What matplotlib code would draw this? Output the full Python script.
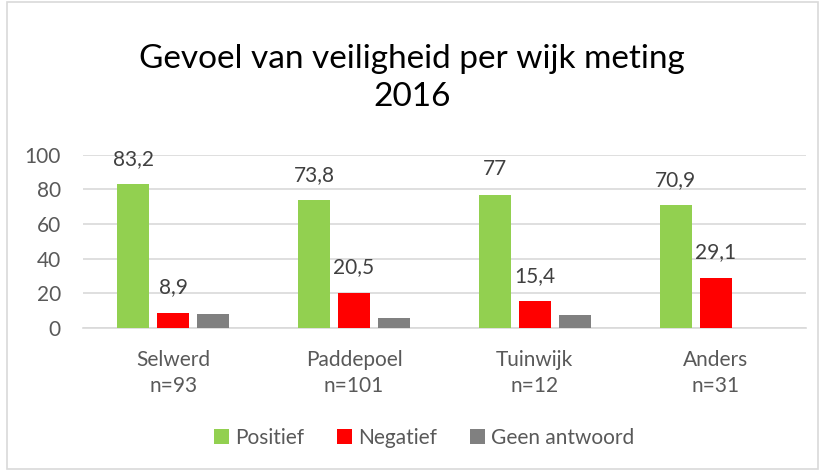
import matplotlib
matplotlib.use("Agg")
import matplotlib.pyplot as plt
import numpy as np
from matplotlib.patches import Rectangle

categories = ["Selwerd\nn=93", "Paddepoel\nn=101", "Tuinwijk\nn=12", "Anders\nn=31"]
positief = [83.2, 73.8, 77, 70.9]
negatief = [8.9, 20.5, 15.4, 29.1]
geen = [7.9, 5.7, 7.6, 0]
series_names = ["Positief", "Negatief", "Geen antwoord"]
colors = ["#92D050", "#FF0000", "#808080"]

plt.rcParams['font.family'] = ['Lato', 'DejaVu Sans']
txt = "#595959"

fig = plt.figure(figsize=(8.24, 4.72), dpi=100)
ax = fig.add_axes([0.1007, 0.305, 0.8773, 0.367])

x = np.arange(len(categories))
w = 0.177
step = 0.221
data = [positief, negatief, geen]
for i, (vals, c, name) in enumerate(zip(data, colors, series_names)):
    bars = ax.bar(x + (i - 1) * step, vals, width=w, color=c, label=name, zorder=3)
    if i < 2:
        for b, v in zip(bars, vals):
            lab = ("%g" % v).replace(".", ",")
            ax.annotate(lab, (b.get_x() + b.get_width() / 2, v), xytext=(0, 11),
                        textcoords="offset points", ha="center", va="bottom",
                        fontsize=15, color="#404040")

ax.set_xlim(-0.5, 3.5)
ax.set_ylim(0, 100)
ax.set_yticks([0, 20, 40, 60, 80, 100])
ax.yaxis.grid(True, color="#D9D9D9", linewidth=1.2, zorder=0)
ax.set_axisbelow(True)
for s in ["top", "right", "left"]:
    ax.spines[s].set_visible(False)
ax.spines["bottom"].set_color("#D9D9D9")
ax.spines["bottom"].set_linewidth(1.2)
ax.tick_params(axis="both", length=0, labelsize=15, colors=txt)
ax.tick_params(axis="x", pad=16)
ax.tick_params(axis="y", pad=16)
ax.set_xticks(x)
ax.set_xticklabels(categories, linespacing=1.35)

fig.text(0.5, 0.835, "Gevoel van veiligheid per wijk meting\n2016", ha="center", va="center",
         fontsize=24, color="#000000", linespacing=1.35)

leg = ax.legend(loc="center", ncol=3, frameon=False, fontsize=15, handlelength=0.7,
                handleheight=0.7, columnspacing=1.6, handletextpad=0.3)
for t in leg.get_texts():
    t.set_color(txt)
leg.set_bbox_to_anchor((0.515, 0.072), transform=fig.transFigure)

fig.patches.append(Rectangle((0.008, 0.006), 0.985, 0.99, transform=fig.transFigure,
                             fill=False, edgecolor="#D9D9D9", linewidth=1.2))

fig.savefig("out.png", dpi=100)
